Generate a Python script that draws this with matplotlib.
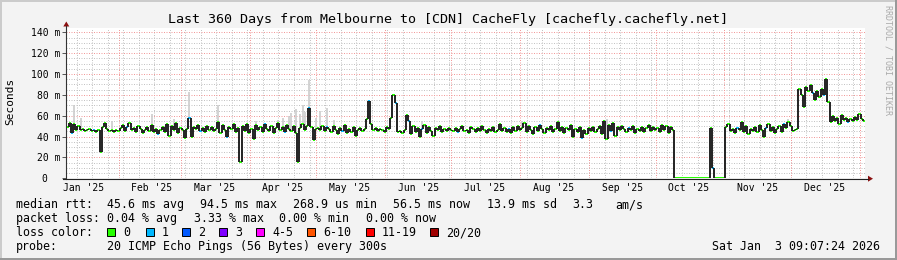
import matplotlib
matplotlib.use('Agg')
import matplotlib.pyplot as plt
import matplotlib.dates as mdates
from matplotlib.ticker import MultipleLocator
from matplotlib.patches import Rectangle, Polygon
from datetime import datetime, timedelta

plt.rcParams['font.family'] = ['DejaVu Sans Mono']

start = datetime(2025, 1, 8, 9, 7, 24)

# daily median rtt (ms), one value per day from Jan 8 2025
median_jan = [49, 53, 43, 52, 46, 50, 46, 47, 45, 46, 47, 45, 46, 44, 46, 25, 49, 53, 47, 45, 46, 44, 46, 45]
median_feb = [48, 51, 45, 49, 53, 46, 48, 44, 50, 47, 43, 46, 49, 45, 51, 44, 47, 42, 46, 49, 44, 52, 41, 50, 46, 53, 43, 48]
median_mar = [46, 39, 47, 58, 40, 49, 47, 51, 45, 48, 44, 50, 46, 49, 45, 47, 54, 43, 51, 46, 40, 49, 47, 52, 44, 48, 16, 50, 45, 52, 43]
median_apr = [47, 38, 51, 46, 49, 44, 52, 47, 45, 50, 43, 48, 53, 46, 49, 44, 51, 47, 45, 50, 43, 16, 48, 52, 46, 50, 67, 49, 37, 47]
median_may = [48, 46, 50, 45, 49, 47, 44, 50, 46, 42, 48, 45, 51, 43, 47, 44, 49, 41, 46, 48, 45, 47, 57, 74, 52, 46, 48, 45, 47, 46, 44]
median_jun = [49, 47, 58, 80, 72, 44, 45, 43, 46, 61, 55, 42, 50, 44, 48, 40, 47, 51, 43, 49, 45, 41, 48, 46, 50, 44, 47, 45, 48, 46]
median_jul = [45, 48, 44, 47, 50, 45, 46, 43, 49, 47, 44, 48, 45, 50, 46, 43, 47, 45, 49, 44, 46, 52, 45, 48, 44, 47, 43, 49, 45, 50, 46]
median_aug = [48, 53, 44, 50, 46, 42, 49, 45, 51, 47, 43, 48, 46, 50, 44, 47, 54, 45, 49, 43, 48, 46, 51, 40, 47, 44, 49, 39, 46, 42, 48]
median_sep = [45, 49, 44, 47, 50, 42, 55, 38, 51, 45, 53, 41, 49, 46, 50, 47, 44, 48, 46, 50, 43, 47, 45, 49, 44, 48, 51, 45, 49, 46]
median_oct = [48, 44, 51, 46, 50, 43, 49, 46,
              0.3, 0.3, 0.3, 0.3, 0.3, 0.3, 0.3, 0.3, 0.3, 0.3, 0.3, 0.3, 0.3, 0.3, 0.3, 0.3,
              48, 10, 0.3, 0.3, 0.3, 0.3, 0.3]
median_nov = [49, 52, 45, 47, 43, 48, 46, 54, 44, 50, 42, 47, 45, 49, 44, 51, 46, 40, 48, 52, 45, 49, 43, 47, 50, 44, 52, 48, 54, 50]
median_dec = [45, 46, 47, 86, 80, 68, 88, 84, 89, 82, 75, 84, 78, 86, 80, 95, 73, 54, 60, 55, 58, 52, 61, 56, 58, 54, 57, 55, 59, 56, 62, 57, 55]

median_ms = (median_jan + median_feb + median_mar + median_apr + median_may + median_jun +
             median_jul + median_aug + median_sep + median_oct + median_nov + median_dec)

# days (index) where one of 20 pings was lost -> blue
blue_days = [2, 12, 27, 41, 55, 60, 72, 89, 98, 109, 117, 124, 136, 148, 154, 160, 176, 199,
             213, 232, 245, 253, 291, 302, 315, 323, 336, 341, 352]

# smoke spikes above the median
smoke_days = [3, 6, 20, 38, 48, 55, 68, 85, 95, 97, 100, 101, 103, 105, 106, 107, 109, 112, 114, 117, 120, 160, 205, 243, 325]
smoke_top = [70, 58, 55, 62, 57, 83, 70, 55, 56, 58, 60, 63, 66, 62, 70, 64, 94, 58, 65, 67, 56, 55, 55, 57, 57]

loss_labels = ['0', '1', '2', '3', '4-5', '6-10', '11-19', '20/20']
loss_colors = ['#26ff00', '#00b8ff', '#0059ff', '#7e00ff', '#ff00ff', '#ff5500', '#ff0000', '#a00000']

W, H = 897, 260
L, R, T, B = 66.3, 865, 27.7, 178.3

fig = plt.figure(figsize=(W / 100, H / 100), dpi=100)
fig.patch.set_facecolor('#f3f3f3')
ax = fig.add_axes([L / W, 1 - B / H, (R - L) / W, (B - T) / H])
ax.set_facecolor('white')
for s in ax.spines.values():
    s.set_visible(False)

edges = mdates.date2num([start + timedelta(days=i) for i in range(len(median_ms) + 1)])
ymax = 144.4
ax.set_xlim(edges[0], edges[-1])
ax.set_ylim(0, ymax)

# grid
ax.yaxis.set_major_locator(MultipleLocator(20))
ax.yaxis.set_minor_locator(MultipleLocator(5))
ax.xaxis.set_minor_locator(mdates.WeekdayLocator(byweekday=mdates.MO))
ax.xaxis.set_major_locator(mdates.MonthLocator(bymonthday=16))
ax.xaxis.set_major_formatter(mdates.DateFormatter("%b '%y"))
ax.set_axisbelow(True)
ax.grid(which='minor', color='#c4c4c4', lw=0.72, ls=(0, (1, 1.5)))
ax.yaxis.grid(True, which='major', color='#f29a9a', lw=0.72, ls=(0, (1, 1.5)))
ax.xaxis.grid(False, which='major')
month_starts = [datetime(2025, m, 1) for m in range(2, 13)] + [datetime(2026, 1, 1)]
ax.vlines(mdates.date2num(month_starts), 0, ymax, colors='#f29a9a', lw=0.72, ls=(0, (1, 1.5)), zorder=0.6)

ax.set_yticks(range(0, 141, 20))
ax.set_yticklabels(['0  '] + ['%d m' % v for v in range(20, 141, 20)])
ax.tick_params(axis='y', which='major', length=3, width=0.7, color='#555555', pad=1.5, labelsize=7)
ax.tick_params(axis='y', which='minor', length=0)
ax.tick_params(axis='x', which='both', length=0, pad=3.5, labelsize=7)

# smoke, median line coloured by loss, dark risers
cols = list(loss_colors[0] for _ in median_ms)
for d in blue_days:
    cols[d] = loss_colors[1]
ax.vlines([edges[d] + 0.5 for d in smoke_days], [median_ms[d] for d in smoke_days], smoke_top,
          colors='#cccccc', lw=1.2, zorder=2)
ax.hlines(median_ms, edges[:-1], edges[1:], colors=cols, lw=1.4, zorder=3)
ax.vlines(edges[1:-1], median_ms[:-1], median_ms[1:], colors='#1a1a1a', lw=1.35, zorder=4)

# overlay in pixel coordinates for frame, axes arrows and legend
ov = fig.add_axes([0, 0, 1, 1], zorder=10)
ov.set_xlim(0, W)
ov.set_ylim(H, 0)
ov.axis('off')
ov.patch.set_alpha(0)

ov.add_patch(Rectangle((0, 0), W, 2, color='#cbcbcb', lw=0))
ov.add_patch(Rectangle((0, 0), 2, H, color='#cbcbcb', lw=0))
ov.add_patch(Rectangle((0, H - 2), W, 2, color='#999999', lw=0))
ov.add_patch(Rectangle((W - 2, 0), 2, H, color='#999999', lw=0))

ov.plot([L, L], [B + 0.5, 26], color='#333333', lw=0.8)
ov.plot([L - 3, 868], [B + 0.4, B + 0.4], color='#222222', lw=0.8)
ov.add_patch(Polygon([(L - 3, 26.5), (L + 3, 26.5), (L, 21.5)], color='#8b1010', lw=0))
ov.add_patch(Polygon([(868, B - 2.6), (868, B + 3.4), (873, B + 0.4)], color='#8b1010', lw=0))

ov.text(447.5, 23.2, 'Last 360 Days from Melbourne to [CDN] CacheFly [cachefly.cachefly.net]',
        ha='center', va='baseline', fontsize=9.6)
ov.text(10, 101.5, 'Seconds', rotation=90, ha='center', va='center', fontsize=8)
ov.text(888, 60, 'RRDTOOL / TOBI OETIKER', rotation=270, ha='center', va='center',
        fontsize=6, color='#aaaaaa')

fs = 8.4
rows = [
    (208.3, [(16, 'median rtt:'), (107.3, '45.6 ms avg'), (200, '94.5 ms max'), (292.7, '268.9 us min'),
             (393, '56.5 ms now'), (486.7, '13.9 ms sd'), (572.7, '3.3'), (615, 'am/s')]),
    (222.3, [(16, 'packet loss:'), (107.3, '0.04 % avg'), (194, '3.33 % max'), (279.3, '0.00 % min'),
             (366, '0.00 % now')]),
    (236.3, [(16, 'loss color:')]),
    (250.3, [(16, 'probe:'), (107.3, '20 ICMP Echo Pings (56 Bytes) every 300s')]),
]
for yb, items in rows:
    for x, s in items:
        ov.text(x, yb, s, ha='left', va='baseline', fontsize=fs)

sq_x = [107.3, 145.7, 182.3, 219.3, 256, 307, 365.5, 430]
for x, lab, c in zip(sq_x, loss_labels, loss_colors):
    ov.add_patch(Rectangle((x, 228.3), 8, 8, facecolor=c, edgecolor='black', lw=0.7))
    ov.text(x + 16, 236.3, lab, ha='left', va='baseline', fontsize=fs)

ov.text(880, 250.3, 'Sat Jan  3 09:07:24 2026', ha='right', va='baseline', fontsize=fs)

fig.savefig('out.png', dpi=100, facecolor=fig.get_facecolor())
